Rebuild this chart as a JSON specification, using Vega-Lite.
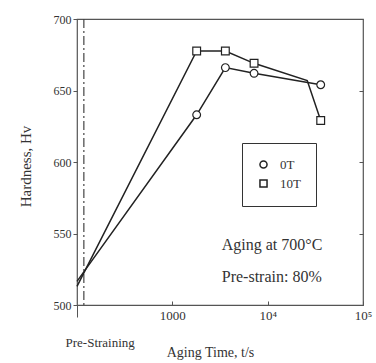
{
  "$schema": "https://vega.github.io/schema/vega-lite/v6.json",
  "width": 286,
  "height": 286,
  "autosize": {"type": "none"},
  "padding": {"left": 77, "top": 19, "right": 13, "bottom": 58},
  "background": "white",
  "config": {
    "font": "Liberation Serif",
    "view": {"stroke": "#555", "strokeWidth": 1.2},
    "axis": {"grid": false, "domain": false, "labelFont": "Liberation Serif", "titleFont": "Liberation Serif", "labelColor": "#333", "titleColor": "#333", "tickColor": "#555", "titleFontWeight": "normal"}
  },
  "datasets": {
    "series": [
      {"time": 100, "h": 516.5, "s": "0T", "marker": false},
      {"time": 1800, "h": 633, "s": "0T", "marker": true},
      {"time": 3600, "h": 666, "s": "0T", "marker": true},
      {"time": 7200, "h": 662, "s": "0T", "marker": true},
      {"time": 36000, "h": 654, "s": "0T", "marker": true},
      {"time": 100, "h": 513, "s": "10T", "marker": false},
      {"time": 1800, "h": 677.6, "s": "10T", "marker": true},
      {"time": 3600, "h": 677.6, "s": "10T", "marker": true},
      {"time": 7200, "h": 669, "s": "10T", "marker": true},
      {"time": 26000, "h": 657, "s": "10T", "marker": false},
      {"time": 36000, "h": 629, "s": "10T", "marker": true}
    ],
    "notes": [
      {"time": 3300, "h": 542, "label": "Aging at 700°C"},
      {"time": 3300, "h": 519.5, "label": "Pre-strain: 80%"}
    ]
  },
  "layer": [
    {
      "data": {"values": [{"time": 118}]},
      "mark": {"type": "rule", "color": "#444", "strokeWidth": 1.2, "strokeDash": [9, 3, 2, 3]},
      "encoding": {
        "x": {"field": "time", "type": "quantitative", "scale": {"type": "log", "domain": [100, 100000], "nice": false}}
      }
    },
    {
      "data": {"name": "series"},
      "mark": {"type": "line", "color": "#222", "strokeWidth": 1.5},
      "encoding": {
        "x": {"field": "time", "type": "quantitative", "scale": {"type": "log", "domain": [100, 100000], "nice": false},
          "axis": {"values": [100, 1000, 10000, 100000], "title": "Aging Time, t/s", "titleFontSize": 14, "titleX": 133, "titleY": 47, "titleBaseline": "middle", "titleAnchor": "middle", "titleAlign": "center",
            "labelExpr": "datum.value == 100 ? ['', 'Pre-Straining'] : datum.value == 1000 ? '1000' : datum.value == 10000 ? '10⁴' : '10⁵'",
            "labelFontSize": 13, "labelLineHeight": 11, "labelPadding": 8, "labelFlush": false,
            "labelAlign": {"condition": {"test": "datum.value == 100", "value": "left"}, "value": "center"},
            "labelOffset": {"condition": {"test": "datum.value == 100", "value": -12}, "value": 0},
            "tickSize": {"condition": {"test": "datum.value == 100", "value": 12}, "value": -4}}},
        "y": {"field": "h", "type": "quantitative", "scale": {"domain": [500, 700], "nice": false},
          "axis": {"orient": "left", "values": [500, 550, 600, 650, 700], "title": "Hardness, Hv", "titleFontSize": 15, "titleX": -52, "titleY": 147, "titleAngle": -90, "titleBaseline": "middle", "labelFontSize": 12, "tickSize": 4, "labelPadding": 2}},
        "detail": {"field": "s"}
      }
    },
    {
      "data": {"name": "series"},
      "transform": [{"filter": "datum.marker"}],
      "mark": {"type": "point", "filled": false, "color": "#222", "fill": "white", "fillOpacity": 1, "strokeWidth": 1.2, "size": 60, "opacity": 1},
      "encoding": {
        "x": {"field": "time", "type": "quantitative", "scale": {"type": "log", "domain": [100, 100000], "nice": false}},
        "y": {"field": "h", "type": "quantitative", "scale": {"domain": [500, 700], "nice": false},
          "axis": {"orient": "right", "values": [500, 550, 600, 650, 700], "labels": false, "title": null, "tickSize": -4}},
        "shape": {"field": "s", "type": "nominal", "scale": {"domain": ["0T", "10T"], "range": ["circle", "square"]},
          "legend": {"orient": "none", "legendX": 165, "legendY": 124, "title": null, "strokeColor": "#333", "fillColor": "white", "padding": 15, "rowPadding": 4, "labelFont": "Liberation Serif", "labelFontSize": 13, "labelColor": "#333", "symbolSize": 50, "labelOffset": 10,
            "encode": {"symbols": {"update": {"stroke": {"value": "#333"}, "fill": {"value": "white"}, "strokeWidth": {"value": 1}, "opacity": {"value": 1}, "fillOpacity": {"value": 1}, "strokeOpacity": {"value": 1}}}}}}
      }
    },
    {
      "data": {"name": "notes"},
      "mark": {"type": "text", "align": "left", "baseline": "middle", "fontSize": 16, "color": "#333", "font": "Liberation Serif"},
      "encoding": {
        "x": {"field": "time", "type": "quantitative", "scale": {"type": "log", "domain": [100, 100000], "nice": false}},
        "y": {"field": "h", "type": "quantitative", "scale": {"domain": [500, 700], "nice": false}, "axis": null},
        "text": {"field": "label"}
      }
    }
  ],
  "resolve": {"axis": {"y": "independent"}}
}
